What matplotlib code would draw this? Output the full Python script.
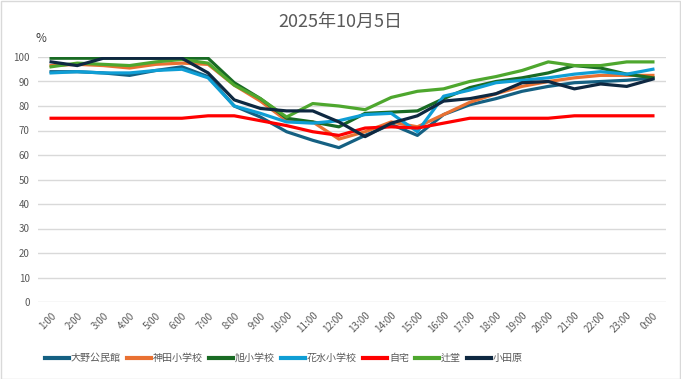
import matplotlib
matplotlib.use("Agg")
import matplotlib.pyplot as plt
from matplotlib.patches import Rectangle

plt.rcParams['font.family'] = ['Noto Sans CJK JP', 'DejaVu Sans']

hours = ["1:00", "2:00", "3:00", "4:00", "5:00", "6:00", "7:00", "8:00", "9:00", "10:00",
         "11:00", "12:00", "13:00", "14:00", "15:00", "16:00", "17:00", "18:00", "19:00",
         "20:00", "21:00", "22:00", "23:00", "0:00"]

ono = [94, 94, 93.5, 92.5, 94.5, 96, 92, 80, 75.5, 69.5, 66, 63, 68, 72.5, 68, 76.5,
       80.5, 83, 86, 88, 89.5, 90, 90.5, 91.5]
kanda = [96.5, 97, 96.5, 95.5, 97, 97.5, 97, 88.5, 82, 74, 73.5, 66.5, 69.5, 73.5, 71.5, 76.5,
         81.5, 85, 88, 90, 91.5, 92.5, 92.5, 92.5]
asahi = [99.5, 99.5, 99.5, 99.5, 99.5, 99.5, 99.5, 89.5, 83, 75, 73.5, 71.5, 77, 77.5, 78, 83,
         87.5, 90, 91.5, 93.5, 96.5, 95.5, 93, 91.5]
hanamizu = [93.5, 94, 93.5, 93.5, 94.5, 95, 91.5, 80, 77, 73.5, 73, 74, 76.5, 77, 69.5, 84,
            86.5, 89.5, 90.5, 91.5, 93, 94, 93, 95]
jitaku = [75, 75, 75, 75, 75, 75, 76, 76, 74, 72, 69.5, 68, 71, 71.5, 71, 73,
          75, 75, 75, 75, 76, 76, 76, 76]
tsujido = [96, 97.5, 97, 96.5, 98, 99, 97.5, 88.5, 83, 75.5, 81, 80, 78.5, 83.5, 86, 87,
           90, 92, 94.5, 98, 96.5, 96.5, 98, 98]
odawara = [98, 96.5, 99.5, 99.5, 99.5, 99.5, 93.5, 82.5, 79, 78, 78, 73.5, 67.5, 73, 76, 82,
           83, 85, 89.5, 90, 87, 89, 88, 91]

series = [
    ("大野公民館", ono, "#156082"),
    ("神田小学校", kanda, "#E97132"),
    ("旭小学校", asahi, "#196B24"),
    ("花水小学校", hanamizu, "#0F9ED5"),
    ("自宅", jitaku, "#FF0000"),
    ("辻堂", tsujido, "#4EA72E"),
    ("小田原", odawara, "#0E2841"),
]

W, H = 681, 379
fig = plt.figure(figsize=(W / 100, H / 100), dpi=100)
ax = fig.add_axes([38 / W, 1 - 302 / H, (666 - 38) / W, (302 - 57) / H])

x = list(range(len(hours)))
for name, vals, col in series:
    ax.plot(x, vals, color=col, lw=2.3, label=name, solid_joinstyle='round')

ax.set_xlim(-0.5, len(hours) - 0.5)
ax.set_ylim(0, 100)
ax.set_yticks(range(0, 101, 10))
ax.set_xticks(x)
ax.set_xticklabels(hours, rotation=45, ha='right', va='top', rotation_mode='anchor')
ax.tick_params(axis='both', length=0, labelsize=7, labelcolor='#595959')
ax.tick_params(axis='x', pad=6)
ax.tick_params(axis='y', pad=6)
ax.grid(axis='y', color='#D9D9D9', lw=1)
ax.set_axisbelow(True)
for s in ax.spines.values():
    s.set_visible(False)

fig.text(340 / W, 1 - 22 / H, "2025年10月5日", ha='center', va='center', fontsize=13,
         color='#595959')
fig.text(36 / W, 1 - 38 / H, "%", ha='left', va='center', fontsize=8.5, color='#404040')

leg = fig.legend(loc='center left', bbox_to_anchor=(36 / W, 1 - 358 / H), ncol=7,
                 frameon=False, fontsize=7.2, handlelength=2.4, handletextpad=0.2,
                 columnspacing=0.6, labelcolor='#595959')
for h in leg.get_lines():
    h.set_linewidth(3)

fig.patches.append(Rectangle((0.5 / W, 0.5 / H), 1 - 1.5 / W, 1 - 1.5 / H,
                             transform=fig.transFigure, fill=False, edgecolor='#D9D9D9', lw=1))

fig.savefig("out.png", dpi=100)
